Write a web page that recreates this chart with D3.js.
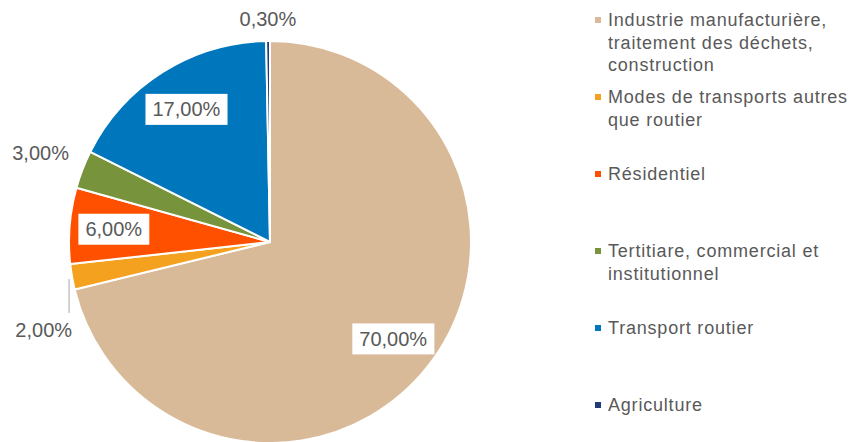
<!DOCTYPE html>
<html>
<head>
<meta charset="utf-8">
<script src="https://cdn.jsdelivr.net/npm/d3@7"></script>
<style>
  body { margin: 0; background: #fff; }
  svg { display: block; font-family: "Liberation Sans", Arial, sans-serif; }
</style>
</head>
<body>
<div id="chart"></div>
<script>
// data
const categories = [
  "Industrie manufacturière, traitement des déchets, construction",
  "Modes de transports autres que routier",
  "Résidentiel",
  "Tertitiare, commercial et institutionnel",
  "Transport routier",
  "Agriculture"
];
const values = [70, 2, 6, 3, 17, 0.3];
const valueLabels = ["70,00%", "2,00%", "6,00%", "3,00%", "17,00%", "0,30%"];
const sliceColors = ["#D9BA98", "#F4A11F", "#FF5000", "#77933C", "#0077BD", "#1F3B78"];
// where each label sits: inside in a white box, outside, or outside with a leader line
const labelModes = ["inside", "leader", "inside", "outside", "inside", "outside"];

const width = 850,
  height = 442;
const cx = 270,
  cy = 242,
  radius = 201;

const svg = d3
  .select("#chart")
  .append("svg")
  .attr("width", width)
  .attr("height", height);

const data = categories.map((name, i) => ({
  name: name,
  value: values[i],
  label: valueLabels[i],
  color: sliceColors[i],
  mode: labelModes[i]
}));

const pie = d3
  .pie()
  .sort(null)
  .value((d) => d.value);

const arcs = pie(data);

const arc = d3.arc().innerRadius(0).outerRadius(radius);
const innerLabelArc = d3.arc().innerRadius(radius * 0.78).outerRadius(radius * 0.78);

const g = svg.append("g").attr("transform", `translate(${cx},${cy})`);

g.selectAll("path")
  .data(arcs)
  .enter()
  .append("path")
  .attr("d", arc)
  .attr("fill", (d) => d.data.color)
  .attr("stroke", "#fff")
  .attr("stroke-width", 2)
  .attr("stroke-linejoin", "round");

// labels
const textColor = "#595959";
const midAngle = (d) => (d.startAngle + d.endAngle) / 2;

arcs.forEach((d) => {
  const a = midAngle(d);
  if (d.data.mode === "inside") {
    const [x, y] = innerLabelArc.centroid(d);
    const lg = g.append("g").attr("transform", `translate(${x},${y})`);
    const t = lg
      .append("text")
      .attr("text-anchor", "middle")
      .attr("dy", "0.35em")
      .attr("font-size", 20)
      .attr("fill", textColor)
      .text(d.data.label);
    const bb = t.node().getBBox();
    lg.insert("rect", "text")
      .attr("x", bb.x - 7)
      .attr("y", -15.5)
      .attr("width", bb.width + 14)
      .attr("height", 31)
      .attr("fill", "#fff");
  } else if (d.data.mode === "outside") {
    const small = d.endAngle - d.startAngle < 0.05;
    const r = small ? radius + 22 : radius + 45;
    const x = Math.sin(a) * r,
      y = -Math.cos(a) * r;
    g.append("text")
      .attr("x", x)
      .attr("y", y)
      .attr("text-anchor", "middle")
      .attr("dy", "0.35em")
      .attr("font-size", 20)
      .attr("fill", textColor)
      .text(d.data.label);
  } else {
    // leader line straight down from the slice edge
    const x0 = Math.sin(a) * (radius + 1),
      y0 = -Math.cos(a) * (radius + 1);
    g.append("line")
      .attr("x1", x0 - 2)
      .attr("y1", y0 + 2)
      .attr("x2", x0 - 2)
      .attr("y2", y0 + 36)
      .attr("stroke", "#a6a6a6")
      .attr("stroke-width", 1);
    g.append("text")
      .attr("x", x0 + 1)
      .attr("y", y0 + 53)
      .attr("text-anchor", "end")
      .attr("dy", "0.35em")
      .attr("font-size", 20)
      .attr("fill", textColor)
      .text(d.data.label);
  }
});

// legend
const legendX = 595,
  legendY = 20,
  legendStep = 77,
  lineHeight = 22.5,
  legendWidth = 244;

const legend = svg
  .append("g")
  .selectAll("g")
  .data(data)
  .enter()
  .append("g")
  .attr("transform", (d, i) => `translate(${legendX},${legendY + i * legendStep})`);

legend
  .append("rect")
  .attr("x", 0)
  .attr("y", -3)
  .attr("width", 6)
  .attr("height", 6)
  .attr("fill", (d) => d.color);

legend.each(function (d) {
  const item = d3.select(this);
  const text = item
    .append("text")
    .attr("font-size", 18)
    .attr("letter-spacing", "0.8px")
    .attr("fill", textColor);
  const words = d.name.split(" ");
  let line = [];
  let lineNo = 0;
  let tspan = text.append("tspan").attr("x", 13).attr("y", 0).attr("dy", "0.35em");
  words.forEach((w) => {
    line.push(w);
    tspan.text(line.join(" "));
    if (tspan.node().getComputedTextLength() > legendWidth && line.length > 1) {
      line.pop();
      tspan.text(line.join(" "));
      line = [w];
      lineNo++;
      tspan = text
        .append("tspan")
        .attr("x", 13)
        .attr("y", lineNo * lineHeight)
        .attr("dy", "0.35em")
        .text(w);
    }
  });
});
</script>
</body>
</html>
